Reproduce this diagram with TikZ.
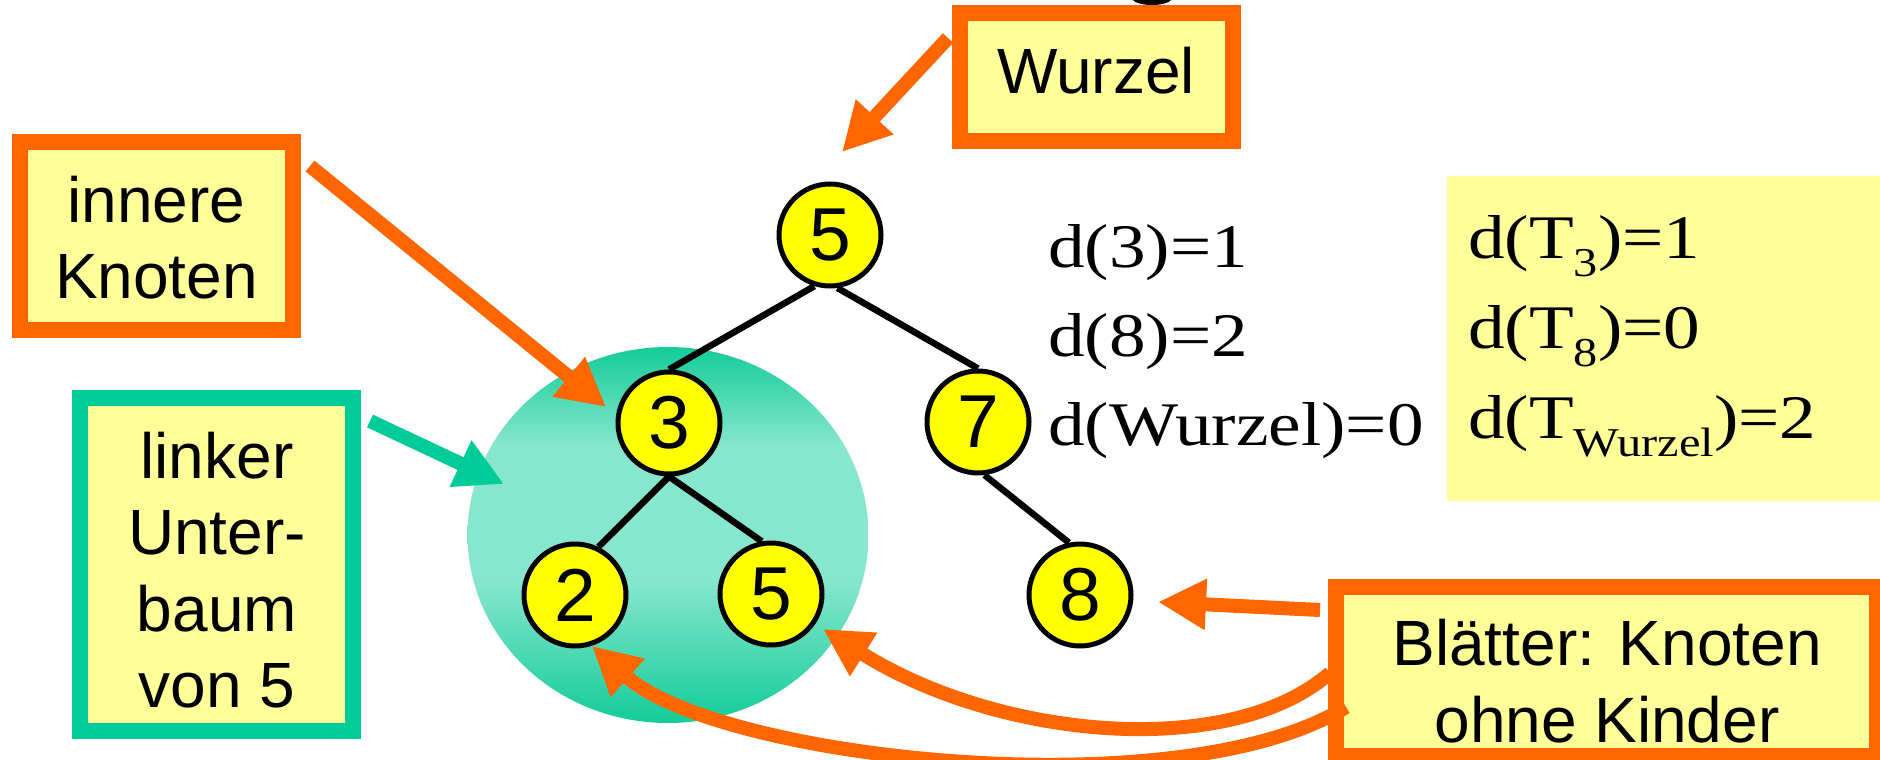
\documentclass[tikz,border=0pt]{standalone}
\usepackage{fontspec}
\usepackage{graphicx}
\setmainfont{Liberation Sans}
\newfontfamily\timesf{Liberation Serif}
\usetikzlibrary{arrows.meta}
\definecolor{orng}{HTML}{FF6600}
\definecolor{tealc}{HTML}{00CC99}
\definecolor{paleyel}{HTML}{FFFF99}
\definecolor{nodeyel}{HTML}{FFFF00}
\definecolor{eltop}{HTML}{14CC98}
\definecolor{elmid}{HTML}{86E6CE}
\pgfdeclareverticalshading{ellsh}{100bp}{color(0bp)=(eltop); color(25bp)=(eltop); color(44bp)=(elmid); color(62bp)=(elmid); color(75bp)=(eltop); color(100bp)=(eltop)}
\pgfdeclarelayer{bgw}
\pgfdeclarelayer{bg}
\pgfsetlayers{bgw,bg,main}
\newcommand\mysub[1]{\raisebox{-18pt}{\fontsize{41}{41}\selectfont #1}}
\newcommand\dstr[1]{\scalebox{1.18}[1]{#1}}
\begin{document}
\begin{tikzpicture}[x=1pt,y=-1pt,
  tnode/.style={circle,draw=black,line width=5pt,fill=nodeyel,minimum size=102pt,inner sep=0pt,font=\fontsize{75}{75}\selectfont},
  obox/.style={draw=orng,line width=16pt,fill=paleyel,inner sep=0pt},
  tbox/.style={draw=tealc,line width=16pt,fill=paleyel,inner sep=0pt},
  lbl/.style={inner sep=0pt,anchor=base,font=\fontsize{64}{76}\selectfont},
  dtxt/.style={inner sep=0pt,anchor=base west,font=\timesf\fontsize{62}{62}\selectfont},
  treeedge/.style={line width=6.5pt},
  oarrow/.style={draw=orng,line width=14pt,-{Triangle[length=48pt,width=48pt]}},
  tarrow/.style={draw=tealc,line width=14pt,-{Triangle[length=48pt,width=48pt]}}]
\useasboundingbox (0,0) rectangle (1880,760);
\begin{pgfonlayer}{bgw}
\fill[white] (0,0) rectangle (1880,760);
\end{pgfonlayer}
% fragment of cut-off title
\fill[black] (1152,-2) ellipse [x radius=20pt, y radius=7pt];

% boxes
\node[obox,minimum width=273pt,minimum height=128pt] (wzbox) at (1096.5,77) {};
\node[lbl] (wzt) at (1096,93) {Wurzel};
\node[obox,minimum width=273pt,minimum height=188pt] (ikbox) at (156.5,236) {};
\node[lbl] (ikt1) at (156.5,222) {innere};
\node[lbl] (ikt2) at (156.5,298) {Knoten};
\node[tbox,minimum width=273pt,minimum height=333pt] (lubox) at (216.5,564.5) {};
\node[lbl] (lut1) at (217,478) {linker};
\node[lbl] (lut2) at (217,554) {Unter-};
\node[lbl] (lut3) at (217,631) {baum};
\node[lbl] (lut4) at (217,707) {von 5};
\node[fill=paleyel,inner sep=0pt,minimum width=433pt,minimum height=325pt] (ybox) at (1663.5,338.5) {};
\node[obox,minimum width=541pt,minimum height=169pt] (blbox) at (1606.5,671.5) {};
\node[lbl] (blt1) at (1607,665) {Blätter: Knoten};
\node[lbl] (blt2) at (1607,742) {ohne Kinder};

% tree nodes
\node[tnode] (r) at (830,235) {5};
\node[tnode] (n3) at (669,423) {3};
\node[tnode] (n7) at (978,422) {7};
\node[tnode] (n2) at (575,595) {2};
\node[tnode] (n5) at (771,594) {5};
\node[tnode] (n8) at (1080,595) {8};

\begin{pgfonlayer}{bg}
\shade[shading=ellsh] (668,535) ellipse [x radius=200.5pt, y radius=188pt];
\draw[treeedge] (r.253) -- (n3.north);
\draw[treeedge] (r.278) -- (n7.north);
\draw[treeedge] (n3.south) -- (n2.64);
\draw[treeedge] (n3.south) -- (n5.100);
\draw[treeedge] (n7.277) -- (n8.102);
\end{pgfonlayer}

% depth texts
\node[dtxt] (d1) at (1048,267) {\dstr{d(3)=1}};
\node[dtxt] (d2) at (1048,356) {\dstr{d(8)=2}};
\node[dtxt] (d3) at (1048,445) {\dstr{d(Wurzel)=0}};
\node[dtxt] (h1) at (1468,258) {\dstr{d(T\mysub{3})=1}};
\node[dtxt] (h2) at (1468,348) {\dstr{d(T\mysub{8})=0}};
\node[dtxt] (h3) at (1468,438) {\dstr{d(T\mysub{Wurzel})=2}};

% arrows
\coordinate (wa0) at (948,38);
\coordinate (wa1) at (842,152);
\draw[oarrow] (wa0) -- (wa1);
\coordinate (ia0) at (310,166);
\coordinate (ia1) at (606,407);
\draw[oarrow] (ia0) -- (ia1);
\coordinate (ta0) at (370,421);
\coordinate (ta1) at (504,484);
\draw[tarrow] (ta0) -- (ta1);
\coordinate (ba0) at (1320,610);
\coordinate (ba1) at (1158,602);
\draw[oarrow] (ba0) -- (ba1);
\coordinate (bb0) at (1330,673);
\coordinate (bb1) at (823,629);
\draw[oarrow] (bb0) .. controls (1230,760) and (1000,740) .. (bb1);
\coordinate (bc0) at (1346,707);
\coordinate (bc1) at (592,646);
\draw[oarrow] (bc0) .. controls (1180,810) and (720,760) .. (bc1);
\end{tikzpicture}
\end{document}
